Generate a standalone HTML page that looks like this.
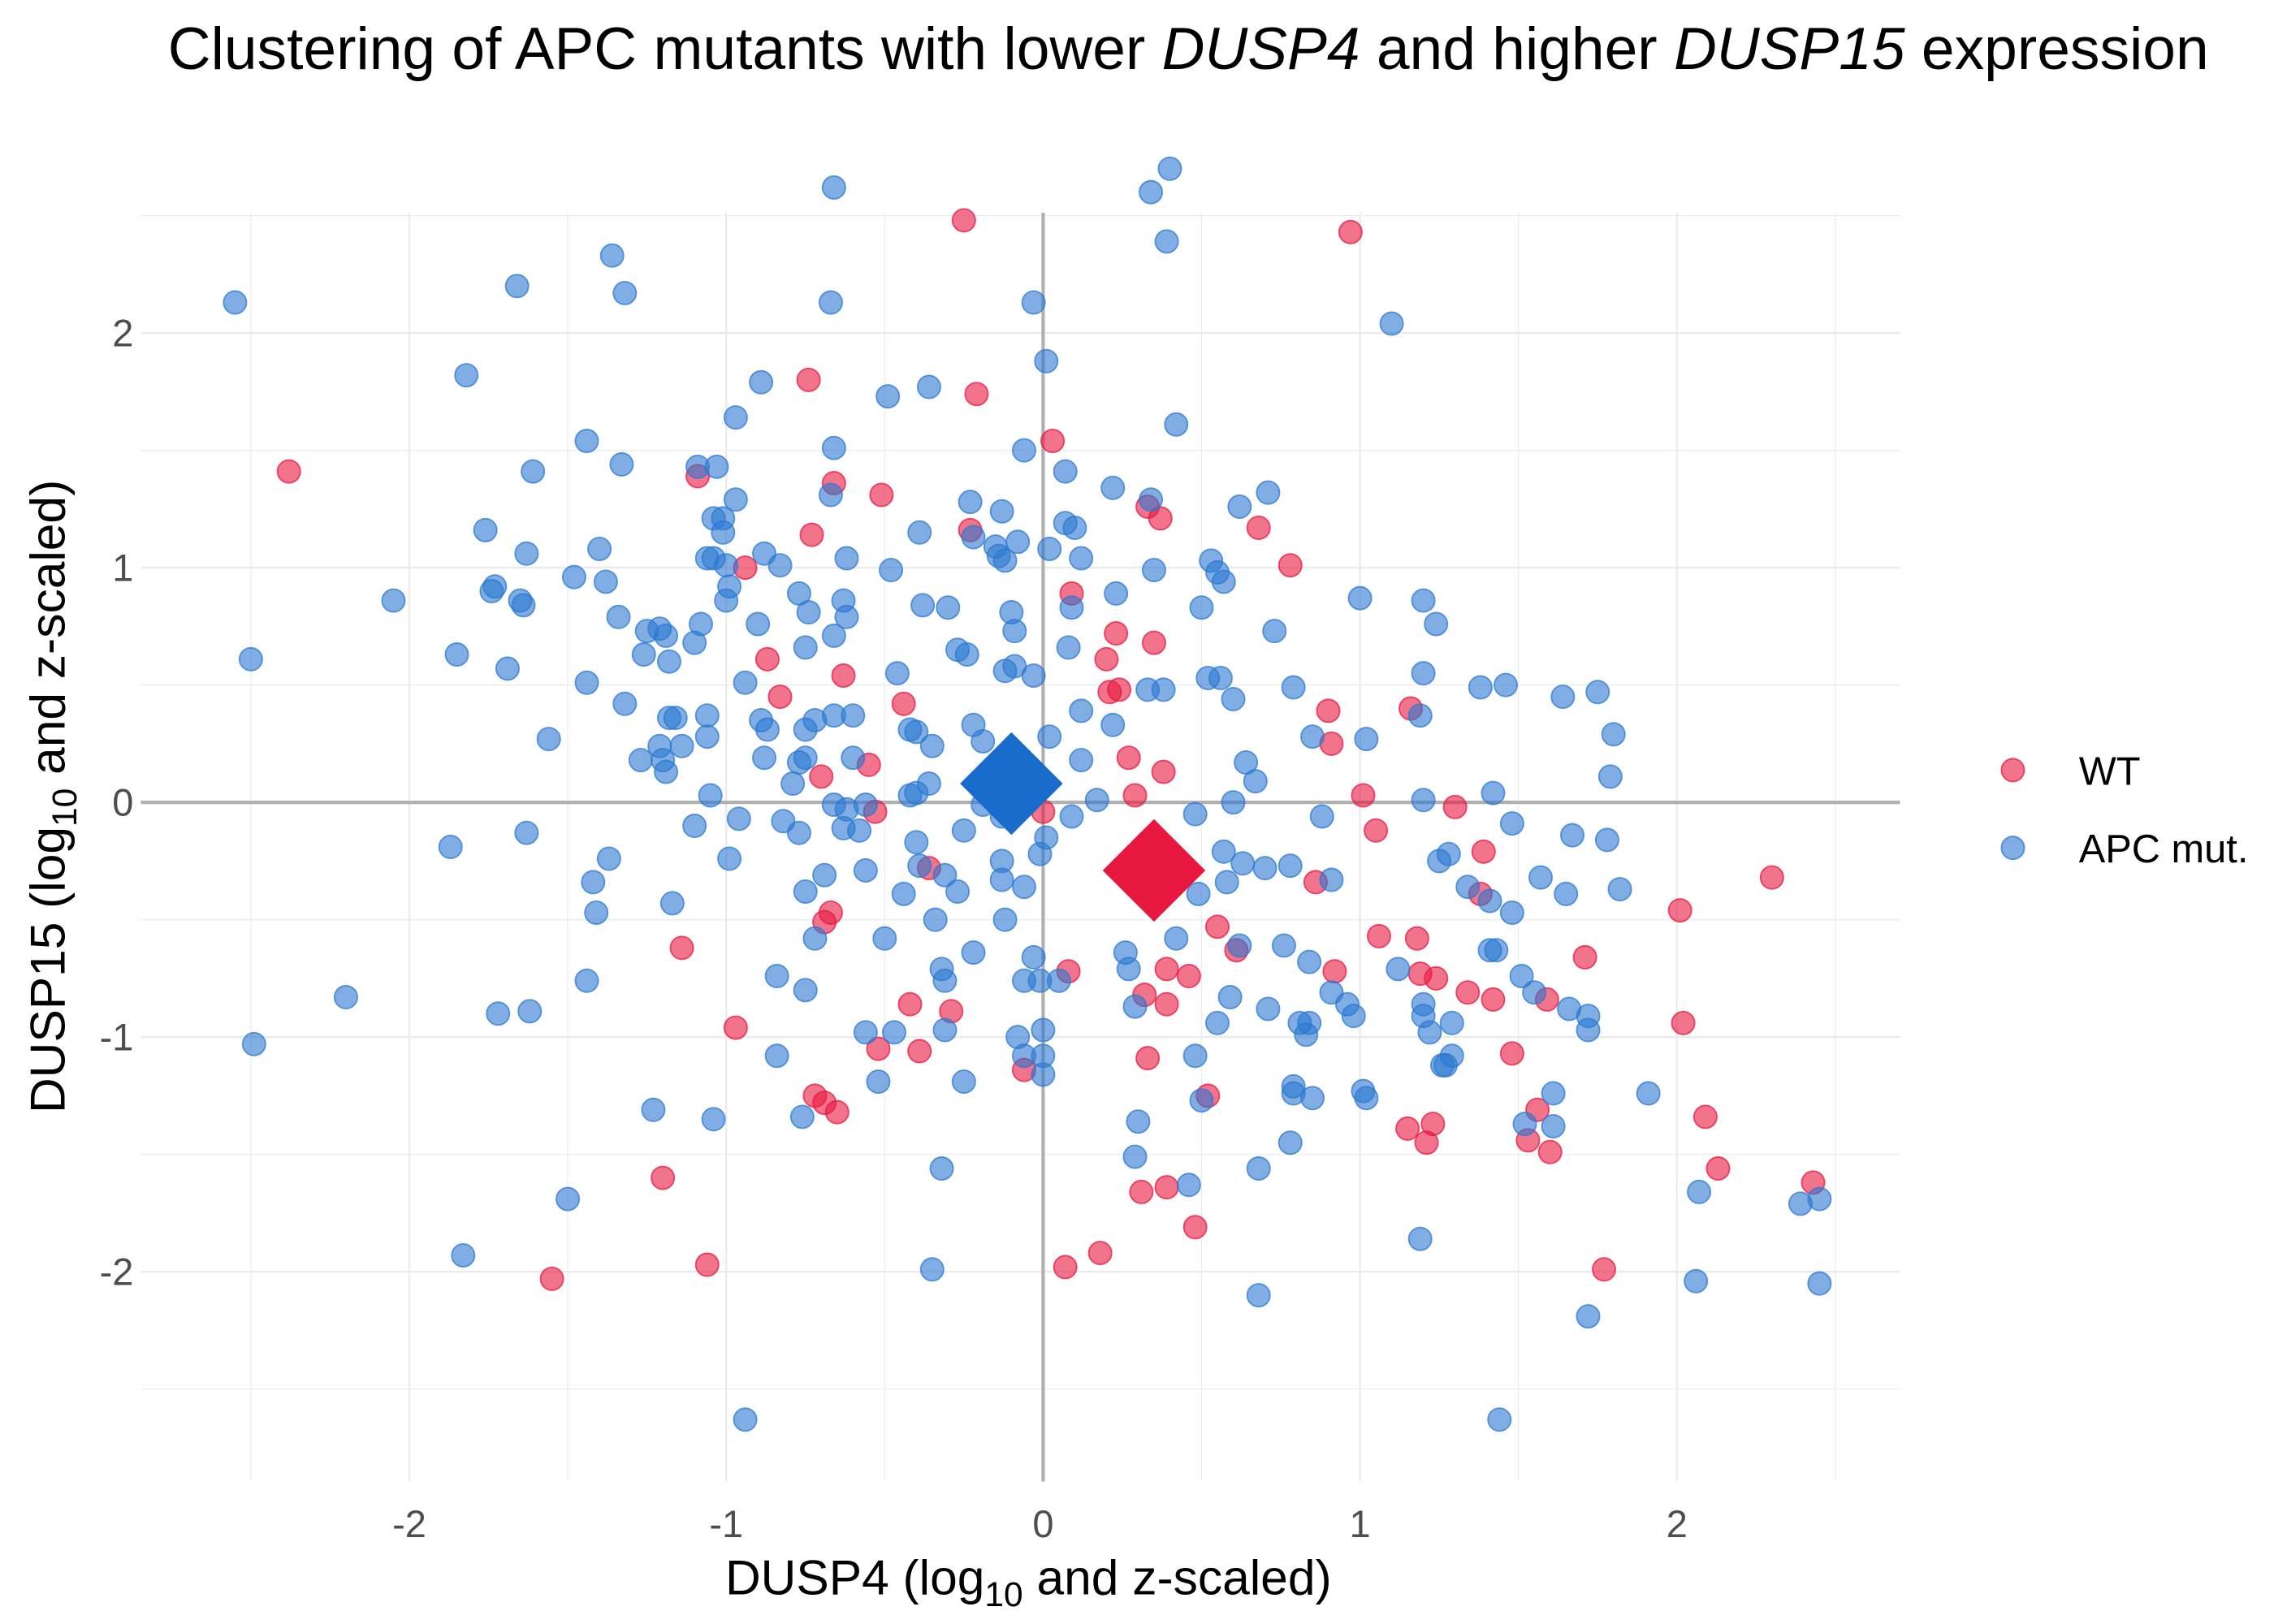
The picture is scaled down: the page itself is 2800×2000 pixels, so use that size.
<!DOCTYPE html>
<html><head><meta charset="utf-8"><style>html,body{margin:0;padding:0;background:#fff}svg{display:block}</style></head>
<body>
<svg id="chart" width="2800" height="2000" viewBox="0 0 1550 1107.14" xmlns="http://www.w3.org/2000/svg" font-family="Liberation Sans, sans-serif">
<rect width="1550" height="1107.14" fill="#fff"/>
<text x="810" y="47" font-size="40.5" text-anchor="middle" fill="#000">Clustering of APC mutants with lower <tspan font-style="italic">DUSP4</tspan> and higher <tspan font-style="italic">DUSP15</tspan> expression</text>
<g id="grid"></g>
<g id="axes"></g>
<g id="points"></g>
<text x="701" y="1087" font-size="33.5" text-anchor="middle" fill="#000">DUSP4 (log<tspan font-size="23.5" dy="8">10</tspan><tspan dy="-8"> and z-scaled)</tspan></text>
<text transform="translate(44,543) rotate(-90)" font-size="33.5" text-anchor="middle" fill="#000">DUSP15 (log<tspan font-size="23.5" dy="8">10</tspan><tspan dy="-8"> and z-scaled)</tspan></text>
<g>
<circle cx="1372" cy="525" r="7.8" fill="#e8173f" fill-opacity="0.6" stroke="#e8173f" stroke-opacity="0.75"/>
<text x="1417" y="535" font-size="27" fill="#000">WT</text>
<circle cx="1372" cy="578" r="7.8" fill="#2b78d2" fill-opacity="0.6" stroke="#2b78d2" stroke-opacity="0.75"/>
<text x="1417" y="588" font-size="27" fill="#000">APC mut.</text>
</g>
</svg>
<script>
const xTicks = [-2,-1,0,1,2];
const yTicks = [-2,-1,0,1,2];
const wtX = [-0.25,0.97,-2.38,-0.74,-0.21,0.03,-1.09,-0.51,-0.66,-0.94,-0.73,-0.23,0.33,0.37,0.68,0.78,0.09,0.23,0.35,-0.87,-0.83,-0.63,-0.44,0.20,0.21,0.24,0.90,0.91,1.16,0.27,0.38,0.29,-0.70,-0.55,-0.53,-0.14,0.00,1.01,1.05,1.30,1.39,1.38,2.01,2.30,-0.36,-0.67,-0.69,-1.14,0.55,0.61,0.92,0.39,0.46,0.32,0.39,0.08,-0.29,-0.42,1.06,1.18,1.24,1.34,1.42,1.71,1.59,2.02,-0.52,-0.39,-0.97,-0.06,0.33,-0.72,-0.69,-0.65,0.52,1.15,1.21,1.23,1.48,1.56,1.53,1.60,2.09,2.13,-1.20,0.31,0.39,0.48,0.07,0.18,-1.06,-1.55,1.77,2.43,1.19,0.86];
const wtY = [2.48,2.43,1.41,1.80,1.74,1.54,1.39,1.31,1.36,1.00,1.14,1.16,1.26,1.21,1.17,1.01,0.89,0.72,0.68,0.61,0.45,0.54,0.42,0.61,0.47,0.48,0.39,0.25,0.40,0.19,0.13,0.03,0.11,0.16,-0.04,0.16,-0.04,0.03,-0.12,-0.02,-0.21,-0.39,-0.46,-0.32,-0.28,-0.47,-0.51,-0.62,-0.53,-0.63,-0.72,-0.71,-0.74,-0.82,-0.86,-0.72,-0.89,-0.86,-0.57,-0.58,-0.75,-0.81,-0.84,-0.66,-0.84,-0.94,-1.05,-1.06,-0.96,-1.14,-1.09,-1.25,-1.28,-1.32,-1.25,-1.39,-1.45,-1.37,-1.07,-1.31,-1.44,-1.49,-1.34,-1.56,-1.60,-1.66,-1.64,-1.81,-1.98,-1.92,-1.97,-2.03,-1.99,-1.62,-0.73,-0.34];
const apcX = [-0.66,0.34,0.40,0.39,-1.36,-1.32,-2.55,-1.66,-0.67,-0.03,1.10,0.01,-1.82,-0.89,-0.49,-0.36,-0.97,0.42,-1.44,-1.61,-1.33,-0.66,-0.06,-1.09,-1.03,0.07,-0.97,-0.67,-0.23,0.22,0.71,0.34,-0.13,0.62,-1.76,-1.04,-1.01,-1.63,-1.48,-1.40,-1.01,-1.04,-0.62,-0.48,-0.39,-0.22,-0.15,-0.14,-0.08,-0.12,0.07,0.10,0.12,0.02,0.35,0.53,0.55,0.57,-1.73,-1.74,-1.65,-1.38,-1.06,-0.99,-1.00,-0.88,-0.83,-1.00,-1.34,-1.21,-1.08,-0.90,-0.77,-0.74,-0.62,-0.63,-0.66,-0.38,-0.30,-0.27,-0.24,-0.10,-0.09,0.09,0.08,0.23,0.50,0.73,1.00,1.20,1.24,-2.05,-1.64,-1.85,-1.69,-1.25,-1.19,-1.10,-1.44,-1.26,-1.18,-0.75,-0.46,-0.12,-0.09,-0.03,0.52,0.56,0.60,0.79,1.20,1.38,1.46,1.64,1.75,-1.32,-1.18,-1.16,-1.06,-0.94,-0.89,-0.87,-0.75,-0.72,-0.66,-0.60,-0.42,-0.40,0.33,0.38,0.12,0.85,1.02,1.80,1.19,-2.50,-1.56,-1.27,-1.20,-1.21,-1.06,-1.14,-0.88,-0.77,-0.75,-0.60,-0.35,-0.22,-0.19,0.02,0.12,0.22,0.64,0.67,1.79,-1.19,-1.05,-0.79,-0.66,-0.62,-0.56,-0.42,-0.40,-0.36,-0.19,-0.19,0.17,0.60,1.20,1.42,-1.87,-1.63,-1.37,-1.10,-0.96,-0.82,-0.77,-0.63,-0.58,-0.40,-0.25,-0.13,-0.13,-0.01,0.01,0.09,0.48,0.57,0.63,0.70,0.78,0.88,1.48,1.67,1.78,1.25,1.28,1.57,-1.42,-1.17,-1.41,-0.99,-0.69,-0.56,-0.39,-0.31,-0.13,-0.06,0.49,0.58,0.91,1.41,1.65,1.82,1.34,-0.75,-0.44,-0.27,-0.12,-0.34,-0.72,-0.50,-0.22,-0.32,-0.03,0.26,0.27,0.42,0.62,0.76,0.84,1.48,1.41,1.43,1.51,1.55,1.66,1.72,1.72,1.12,1.20,1.20,1.22,1.29,0.96,0.98,0.91,0.81,0.83,0.84,0.71,0.59,0.55,0.29,-1.44,-2.20,-1.72,-1.62,-0.84,-0.75,-0.31,-0.06,-0.01,0.05,-0.47,-0.56,-0.31,0.00,-0.08,-0.06,0.00,0.00,-0.84,-0.52,-0.25,0.48,1.01,1.02,0.79,0.79,0.85,1.61,1.61,1.91,1.29,1.27,1.26,-1.23,-1.04,-0.76,0.50,0.30,0.29,0.78,-0.32,0.46,0.68,2.07,2.39,2.45,1.19,2.06,2.45,1.72,0.68,-0.35,-1.50,-1.83,-0.94,1.44,-2.49,1.52];
const apcY = [2.62,2.60,2.70,2.39,2.33,2.17,2.13,2.20,2.13,2.13,2.04,1.88,1.82,1.79,1.73,1.77,1.64,1.61,1.54,1.41,1.44,1.51,1.50,1.43,1.43,1.41,1.29,1.31,1.28,1.34,1.32,1.29,1.24,1.26,1.16,1.21,1.21,1.06,0.96,1.08,1.15,1.04,1.04,0.99,1.15,1.13,1.09,1.05,1.11,1.03,1.19,1.17,1.04,1.08,0.99,1.03,0.98,0.94,0.92,0.90,0.86,0.94,1.04,0.92,1.01,1.06,1.01,0.86,0.79,0.74,0.76,0.76,0.89,0.81,0.79,0.86,0.71,0.84,0.83,0.65,0.63,0.81,0.73,0.83,0.66,0.89,0.83,0.73,0.87,0.86,0.76,0.86,0.84,0.63,0.57,0.73,0.71,0.68,0.51,0.63,0.60,0.66,0.55,0.56,0.58,0.54,0.53,0.53,0.44,0.49,0.55,0.49,0.50,0.45,0.47,0.42,0.36,0.36,0.37,0.51,0.35,0.31,0.31,0.35,0.37,0.37,0.31,0.30,0.48,0.48,0.39,0.28,0.27,0.29,0.37,0.61,0.27,0.18,0.18,0.24,0.28,0.24,0.19,0.17,0.19,0.19,0.24,0.33,0.26,0.28,0.18,0.33,0.17,0.09,0.11,0.13,0.03,0.08,-0.01,-0.03,-0.01,0.03,0.04,0.08,-0.01,0.06,0.01,0.00,0.01,0.04,-0.19,-0.13,-0.24,-0.10,-0.07,-0.08,-0.13,-0.11,-0.12,-0.17,-0.12,-0.06,-0.25,-0.22,-0.15,-0.06,-0.05,-0.21,-0.26,-0.28,-0.27,-0.06,-0.09,-0.14,-0.16,-0.25,-0.22,-0.32,-0.34,-0.43,-0.47,-0.24,-0.31,-0.29,-0.27,-0.31,-0.33,-0.36,-0.39,-0.34,-0.33,-0.42,-0.39,-0.37,-0.36,-0.38,-0.39,-0.38,-0.50,-0.50,-0.58,-0.58,-0.64,-0.71,-0.66,-0.64,-0.71,-0.58,-0.61,-0.61,-0.68,-0.47,-0.63,-0.63,-0.74,-0.81,-0.88,-0.91,-0.97,-0.71,-0.86,-0.91,-0.98,-0.94,-0.86,-0.91,-0.81,-0.94,-0.99,-0.94,-0.88,-0.83,-0.94,-0.87,-0.76,-0.83,-0.90,-0.89,-0.74,-0.80,-0.76,-0.76,-0.76,-0.76,-0.98,-0.98,-0.97,-0.97,-1.00,-1.08,-1.08,-1.16,-1.08,-1.19,-1.19,-1.08,-1.23,-1.26,-1.21,-1.24,-1.26,-1.24,-1.38,-1.24,-1.08,-1.12,-1.12,-1.31,-1.35,-1.34,-1.27,-1.36,-1.51,-1.45,-1.56,-1.63,-1.56,-1.66,-1.71,-1.69,-1.86,-2.04,-2.05,-2.19,-2.10,-1.99,-1.69,-1.93,-2.63,-2.63,-1.03,-1.37];
const wtCentroid = [0.35,-0.29];
const apcCentroid = [-0.10,0.08];

const NS='http://www.w3.org/2000/svg';
const X0=711, XU=216, Y0=547, YU=160;
const L=96, R=1295, T=145, B=1010;
function sx(v){return X0+v*XU;}
function sy(v){return Y0-v*YU;}
function mk(tag,attrs,parent){const e=document.createElementNS(NS,tag);for(const k in attrs)e.setAttribute(k,attrs[k]);parent.appendChild(e);return e;}
const grid=document.getElementById('grid'), axes=document.getElementById('axes'), pts=document.getElementById('points');
for(let v=-2.5;v<=2.5;v+=0.5){
  const major=Number.isInteger(v);
  const gx=mk('line',{x1:sx(v),x2:sx(v),y1:T,y2:B,stroke:'#ebebeb','stroke-width':major?1.3:0.65},grid);
  
  
  const gy=mk('line',{x1:L,x2:R,y1:sy(v),y2:sy(v),stroke:'#ebebeb','stroke-width':major?1.3:0.65},grid);
  
  
}
const vl=mk('line',{x1:sx(0),x2:sx(0),y1:T,y2:B,stroke:'#b0b0b0','stroke-width':2.3},axes);


const hl=mk('line',{x1:L,x2:R,y1:sy(0),y2:sy(0),stroke:'#b0b0b0','stroke-width':2.3},axes);


xTicks.forEach(t=>{
  const e=mk('text',{x:sx(t),y:1048,'font-size':26,'text-anchor':'middle',fill:'#4d4d4d'},axes);
  e.textContent=String(t);
  
  
});
yTicks.forEach(t=>{
  const e=mk('text',{x:91,y:sy(t)+9,'font-size':26,'text-anchor':'end',fill:'#4d4d4d'},axes);
  e.textContent=String(t);
  
  
});
function dots(xs,ys,col,name){
  xs.forEach((x,i)=>{
    const c=mk('circle',{cx:sx(x),cy:sy(ys[i]),r:7.8,fill:col,'fill-opacity':0.6,stroke:col,'stroke-opacity':0.75,'stroke-width':1},pts);
    
    
  });
}
dots(wtX,wtY,'#e8173f','wt-point');
dots(apcX,apcY,'#2b78d2','apc-point');
function diamond(p,col,name){
  const cx=sx(p[0]), cy=sy(p[1]), h=35;
  const d=mk('polygon',{points:`${cx},${cy-h} ${cx+h},${cy} ${cx},${cy+h} ${cx-h},${cy}`,fill:col},pts);
  
  
}
diamond(apcCentroid,'#1a6ccc','apc-centroid');
diamond(wtCentroid,'#e8173f','wt-centroid');
</script>
</body></html>
